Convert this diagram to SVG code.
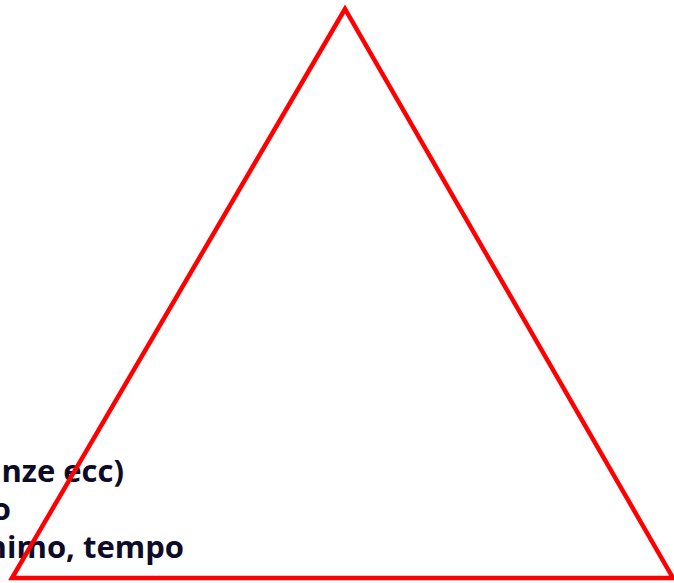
<svg xmlns="http://www.w3.org/2000/svg" width="674" height="583" viewBox="0 0 674 583">
<style>
.t{font-family:"Open Sans","Liberation Sans",sans-serif;font-weight:bold;font-size:31px;fill:#0c0c28}
</style>
<rect width="674" height="583" fill="#ffffff"/>
<g id="text">
<text class="t" x="124" y="482" text-anchor="end">nze ecc)</text>
<text class="t" x="11" y="520" text-anchor="end">o</text>
<text class="t" x="184" y="558" text-anchor="end">nimo, tempo</text>
</g>
<g id="triangle">
<polygon points="345,9 12,578 673,578" fill="none" stroke="#ff0000" stroke-width="4.5" stroke-linejoin="miter"/>
</g>
</svg>
